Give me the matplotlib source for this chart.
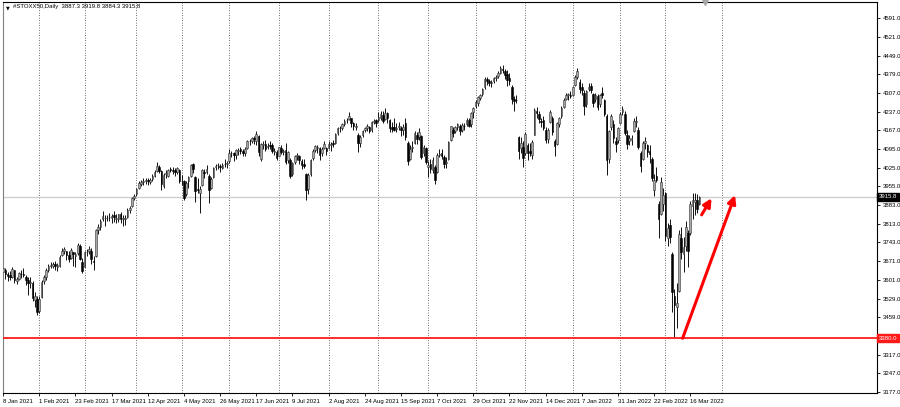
import matplotlib
matplotlib.use("Agg")
import matplotlib.pyplot as plt
import matplotlib.transforms as mtransforms
import numpy as np
import pandas as pd

symbol = "#STOXX50,Daily"
holidays = ["2021-04-02", "2021-04-05", "2021-12-24", "2021-12-31"]

# daily bars: (open, high, low, close)
jan21 = [(3630, 3652, 3620, 3645), (3640, 3645, 3605, 3622), (3622, 3630, 3598, 3616), (3618, 3635, 3600, 3611),
         (3612, 3650, 3608, 3641), (3638, 3640, 3590, 3600), (3598, 3612, 3585, 3605), (3606, 3632, 3600, 3626),
         (3624, 3640, 3610, 3622), (3625, 3645, 3612, 3619), (3612, 3620, 3580, 3602), (3600, 3612, 3545, 3590),
         (3590, 3612, 3570, 3593), (3590, 3595, 3520, 3531), (3525, 3555, 3500, 3541), (3530, 3540, 3468, 3481)]
feb21 = [(3485, 3540, 3475, 3530), (3535, 3600, 3532, 3594), (3595, 3620, 3585, 3612), (3612, 3645, 3600, 3640),
         (3640, 3662, 3630, 3655), (3655, 3668, 3645, 3657), (3655, 3670, 3645, 3662), (3662, 3672, 3640, 3652),
         (3650, 3665, 3635, 3657), (3655, 3694, 3650, 3689), (3695, 3722, 3692, 3710), (3712, 3726, 3700, 3717),
         (3710, 3712, 3675, 3696), (3695, 3712, 3670, 3681), (3685, 3720, 3680, 3713), (3705, 3708, 3655, 3698),
         (3690, 3705, 3650, 3700), (3702, 3740, 3695, 3734), (3728, 3735, 3675, 3681), (3670, 3682, 3628, 3636)]
mar21 = [(3650, 3712, 3648, 3708), (3705, 3718, 3690, 3707), (3710, 3728, 3700, 3718), (3712, 3720, 3660, 3680),
         (3670, 3690, 3640, 3669), (3690, 3795, 3688, 3789), (3790, 3812, 3775, 3803), (3800, 3830, 3790, 3825),
         (3830, 3860, 3825, 3842), (3835, 3845, 3805, 3837), (3835, 3848, 3822, 3836), (3838, 3855, 3825, 3839),
         (3835, 3850, 3815, 3843), (3845, 3862, 3820, 3838), (3830, 3850, 3815, 3837), (3830, 3852, 3820, 3849),
         (3850, 3858, 3815, 3830), (3832, 3848, 3805, 3835), (3830, 3845, 3810, 3837), (3840, 3872, 3835, 3867),
         (3865, 3880, 3855, 3872), (3880, 3915, 3875, 3911), (3912, 3925, 3905, 3919)]
apr21 = [(3925, 3950, 3920, 3945), (3950, 3975, 3945, 3968), (3965, 3980, 3955, 3971), (3972, 3985, 3960, 3977),
         (3975, 3985, 3965, 3979), (3978, 3985, 3960, 3974), (3972, 3988, 3962, 3979), (3982, 4000, 3975, 3994),
         (3995, 4015, 3990, 4010), (4012, 4048, 4010, 4032), (4030, 4035, 4005, 4013), (4012, 4018, 3942, 3963),
         (3955, 4005, 3950, 3999), (4002, 4015, 3985, 4006), (3995, 4020, 3990, 4016), (4020, 4030, 4010, 4017),
         (4018, 4028, 4000, 4012), (4015, 4025, 3995, 4008), (4010, 4030, 4000, 4023), (4015, 4020, 3968, 3975)]
may21 = [(3975, 3998, 3960, 3975), (3975, 3980, 3905, 3910), (3925, 3975, 3920, 3969), (3975, 3995, 3950, 3991),
         (3995, 4040, 3990, 4035), (4038, 4045, 4005, 4020), (3990, 3995, 3895, 3939), (3945, 3985, 3930, 3942),
         (3930, 3955, 3855, 3944), (3960, 4020, 3955, 4017), (4010, 4022, 3985, 4005), (4010, 4036, 4002, 4019),
         (3995, 4000, 3892, 3942), (3950, 3990, 3945, 3983), (3990, 4030, 3985, 4026), (4028, 4040, 4015, 4032),
         (4035, 4045, 4020, 4035), (4032, 4040, 4010, 4029), (4025, 4045, 4020, 4036), (4040, 4060, 4030, 4039),
         (4040, 4050, 4025, 4040)]
jun21 = [(4050, 4095, 4045, 4083), (4080, 4090, 4065, 4081), (4080, 4085, 4050, 4073), (4075, 4098, 4060, 4092),
         (4090, 4100, 4075, 4093), (4095, 4105, 4078, 4089), (4090, 4098, 4070, 4080), (4082, 4102, 4068, 4096),
         (4100, 4130, 4095, 4127), (4125, 4135, 4112, 4126), (4128, 4142, 4120, 4136), (4135, 4145, 4115, 4134),
         (4125, 4165, 4110, 4153), (4145, 4150, 4070, 4084), (4060, 4120, 4052, 4115), (4112, 4125, 4095, 4117),
         (4115, 4130, 4090, 4096), (4105, 4120, 4098, 4109), (4110, 4125, 4095, 4109), (4112, 4118, 4082, 4088),
         (4085, 4100, 4075, 4087), (4085, 4092, 4055, 4064)]
jul21 = [(4070, 4105, 4068, 4102), (4100, 4110, 4078, 4084), (4085, 4095, 4075, 4086), (4092, 4118, 4040, 4048),
         (4055, 4090, 4045, 4085), (4055, 4062, 3985, 3995), (4000, 4048, 3995, 4042), (4048, 4072, 4040, 4068),
         (4070, 4082, 4055, 4071), (4068, 4075, 4040, 4055), (4050, 4060, 4020, 4034), (4040, 4058, 4025, 4032),
         (4000, 4005, 3903, 3941), (3945, 4005, 3925, 3997), (4000, 4060, 3995, 4055), (4062, 4095, 4055, 4090),
         (4092, 4112, 4085, 4108), (4100, 4110, 4080, 4103), (4100, 4105, 4055, 4072), (4080, 4105, 4070, 4098),
         (4100, 4125, 4095, 4117), (4100, 4105, 4075, 4089)]
aug21 = [(4100, 4125, 4098, 4116), (4110, 4122, 4090, 4117), (4118, 4130, 4105, 4116), (4120, 4158, 4115, 4153),
         (4155, 4180, 4150, 4176), (4175, 4182, 4160, 4175), (4176, 4195, 4168, 4190), (4192, 4208, 4185, 4204),
         (4205, 4212, 4195, 4205), (4208, 4238, 4205, 4220), (4212, 4215, 4180, 4193), (4195, 4200, 4168, 4184),
         (4180, 4195, 4170, 4185), (4150, 4155, 4085, 4119), (4120, 4150, 4105, 4141), (4150, 4170, 4140, 4164),
         (4168, 4180, 4160, 4174), (4175, 4190, 4165, 4183), (4180, 4185, 4155, 4164), (4168, 4202, 4160, 4199),
         (4200, 4210, 4190, 4203), (4205, 4210, 4180, 4196)]
sep21 = [(4205, 4235, 4200, 4219), (4215, 4240, 4205, 4227), (4225, 4240, 4195, 4202), (4210, 4250, 4205, 4233),
         (4232, 4238, 4195, 4214), (4205, 4210, 4160, 4174), (4180, 4200, 4160, 4173), (4180, 4215, 4165, 4170),
         (4172, 4195, 4160, 4172), (4180, 4200, 4170, 4185), (4175, 4185, 4145, 4168), (4170, 4190, 4150, 4179),
         (4195, 4212, 4130, 4142), (4120, 4125, 4035, 4049), (4060, 4110, 4055, 4098), (4100, 4125, 4085, 4103),
         (4120, 4165, 4115, 4158), (4150, 4160, 4115, 4133), (4140, 4175, 4130, 4159), (4145, 4150, 4060, 4066),
         (4080, 4110, 4070, 4104), (4100, 4105, 4040, 4048)]
oct21 = [(4030, 4050, 3990, 4034), (4040, 4060, 4005, 4020), (4015, 4065, 4005, 4054), (4030, 4035, 3965, 3979),
         (4010, 4080, 4005, 4073), (4075, 4095, 4065, 4079), (4082, 4098, 4060, 4069), (4065, 4075, 4025, 4040),
         (4045, 4065, 4025, 4048), (4060, 4125, 4055, 4121), (4130, 4185, 4125, 4183), (4170, 4178, 4140, 4158),
         (4165, 4185, 4155, 4179), (4180, 4195, 4170, 4190), (4185, 4190, 4150, 4164), (4170, 4195, 4160, 4188),
         (4185, 4195, 4170, 4182), (4190, 4212, 4185, 4207), (4205, 4212, 4178, 4184), (4190, 4238, 4180, 4233),
         (4235, 4255, 4215, 4250)]
nov21 = [(4258, 4280, 4250, 4274), (4272, 4298, 4260, 4293), (4290, 4305, 4280, 4300), (4305, 4328, 4298, 4322),
         (4330, 4370, 4325, 4363), (4360, 4368, 4340, 4353), (4352, 4360, 4335, 4346), (4345, 4358, 4330, 4349),
         (4352, 4370, 4345, 4364), (4365, 4378, 4355, 4370), (4372, 4390, 4365, 4384), (4385, 4410, 4380, 4401),
         (4400, 4415, 4385, 4395), (4390, 4398, 4360, 4376), (4380, 4395, 4335, 4356), (4365, 4382, 4340, 4353),
         (4330, 4340, 4265, 4286), (4285, 4295, 4240, 4277), (4282, 4300, 4270, 4281), (4140, 4145, 4060, 4089),
         (4100, 4140, 4080, 4120), (4105, 4125, 4030, 4063)]
dec21 = [(4080, 4160, 4075, 4152), (4110, 4120, 4055, 4080), (4090, 4120, 4070, 4080), (4075, 4130, 4060, 4124),
         (4150, 4250, 4148, 4244), (4240, 4255, 4215, 4233), (4230, 4240, 4195, 4208), (4200, 4215, 4180, 4199),
         (4205, 4222, 4170, 4177), (4170, 4180, 4120, 4130), (4135, 4175, 4120, 4170), (4200, 4245, 4195, 4236),
         (4215, 4220, 4150, 4161), (4125, 4135, 4070, 4107), (4115, 4200, 4110, 4194), (4190, 4218, 4180, 4212),
         (4220, 4258, 4215, 4252), (4255, 4288, 4250, 4282), (4285, 4310, 4280, 4302), (4300, 4310, 4280, 4304),
         (4300, 4315, 4290, 4297)]
jan22 = [(4300, 4335, 4295, 4331), (4340, 4375, 4335, 4367), (4370, 4403, 4360, 4392), (4350, 4360, 4310, 4325),
         (4330, 4345, 4300, 4318), (4310, 4320, 4225, 4259), (4265, 4320, 4255, 4317), (4325, 4345, 4315, 4332),
         (4335, 4345, 4310, 4319), (4305, 4310, 4255, 4272), (4285, 4310, 4275, 4301), (4295, 4305, 4245, 4257),
         (4265, 4305, 4255, 4300), (4310, 4330, 4290, 4299), (4280, 4285, 4220, 4229), (4220, 4230, 3998, 4054),
         (4060, 4170, 4045, 4164), (4180, 4230, 4170, 4222), (4190, 4205, 4120, 4137), (4125, 4140, 4085, 4117),
         (4130, 4180, 4120, 4175)]
feb22 = [(4195, 4235, 4190, 4228), (4235, 4260, 4225, 4248), (4230, 4240, 4150, 4156), (4150, 4170, 4095, 4116),
         (4125, 4150, 4110, 4136), (4130, 4150, 4110, 4137), (4165, 4215, 4160, 4203), (4200, 4220, 4180, 4203),
         (4170, 4180, 4095, 4103), (4080, 4090, 4010, 4032), (4060, 4125, 4055, 4118), (4120, 4140, 4095, 4128),
         (4110, 4115, 4065, 4086), (4090, 4110, 4045, 4076), (4060, 4065, 3975, 3986), (3940, 4000, 3920, 3978),
         (3995, 4030, 3970, 3979), (3890, 3900, 3760, 3830), (3850, 3990, 3845, 3970), (3890, 3950, 3860, 3924)]
mar22 = [(3930, 3935, 3750, 3767), (3760, 3815, 3730, 3796), (3810, 3830, 3740, 3764), (3700, 3705, 3480, 3556),
         (3540, 3565, 3385, 3505), (3500, 3590, 3420, 3514), (3560, 3790, 3555, 3776), (3760, 3800, 3680, 3708),
         (3700, 3765, 3630, 3727), (3730, 3825, 3710, 3800), (3780, 3790, 3650, 3710), (3780, 3900, 3770, 3890),
         (3880, 3930, 3830, 3905), (3895, 3928, 3845, 3902), (3905, 3925, 3855, 3870),
         (3887.3, 3919.8, 3884.3, 3915.8)]

date_labels = ["8 Jan 2021", "1 Feb 2021", "23 Feb 2021", "17 Mar 2021", "12 Apr 2021", "4 May 2021",
               "26 May 2021", "17 Jun 2021", "9 Jul 2021", "2 Aug 2021", "24 Aug 2021", "15 Sep 2021",
               "7 Oct 2021", "29 Oct 2021", "22 Nov 2021", "14 Dec 2021", "7 Jan 2022", "31 Jan 2022",
               "22 Feb 2022", "16 Mar 2022"]
# 3387.0 sits under the red level box, so it is left out
price_ticks = [4591.0, 4521.0, 4449.0, 4379.0, 4307.0, 4237.0, 4167.0, 4095.0, 4025.0, 3955.0, 3883.0,
               3813.0, 3743.0, 3671.0, 3601.0, 3529.0, 3459.0, 3317.0, 3247.0, 3177.0]
support_level = 3380.0
# arrows in (bar index, price): start -> end
arrows = [((309.0, 3847.0), (313.4, 3910.0)), ((300.6, 3380.0), (323.8, 3922.0))]
future_grid = [318]        # first month line in the empty area on the right
shift_marker = 310.5

bars = jan21 + feb21 + mar21 + apr21 + may21 + jun21 + jul21 + aug21 + sep21 + oct21 + nov21 + dec21 + jan22 + feb22 + mar22
ohlc = np.array(bars, dtype=float)
o, h, l, c = ohlc.T

dates = pd.bdate_range("2021-01-08", "2022-03-22")
dates = dates[~dates.isin(pd.to_datetime(holidays))]
x = np.arange(len(bars))

fig = plt.figure(figsize=(9.0, 4.07), dpi=100)
ax = fig.add_axes([3 / 900, 14 / 407, 874 / 900, 391 / 407])
ax.set_xlim(-0.06, 386.6)
ax.set_ylim(3173, 4652.5)

# month separators
month_start = [i for i in range(1, len(dates)) if dates[i].month != dates[i - 1].month]
for gx in month_start + future_grid:
    ax.axvline(gx, color="#404040", lw=0.6, ls=(0, (1, 2)), zorder=1)

ax.axhline(c[-1], color="#cfcfcf", lw=1.0, zorder=1)
ax.axhline(support_level, color="#ff1a1a", lw=1.3, zorder=4)

# candles
ax.vlines(x, l, h, color="#111111", lw=0.7, zorder=2)
up = c >= o
ax.bar(x[up], np.maximum(c[up] - o[up], 2), bottom=o[up], width=0.72,
       color="#a8a8a8", edgecolor="#303030", linewidth=0.4, zorder=3)
ax.bar(x[~up], np.maximum(o[~up] - c[~up], 2), bottom=c[~up], width=0.72,
       color="black", edgecolor="black", linewidth=0.4, zorder=3)

for (x0, y0), (x1, y1) in arrows:
    ax.annotate("", xy=(x1, y1), xytext=(x0, y0),
                arrowprops=dict(arrowstyle="-|>", color="#ff0000", lw=2.2,
                                mutation_scale=12, shrinkA=0, shrinkB=0), zorder=5)

# axes styling
lab_font = dict(family=["Liberation Sans", "DejaVu Sans"], size=4.3)
ax.yaxis.tick_right()
ax.set_yticks(price_ticks)
ax.set_yticklabels([f"{p:.1f}" for p in price_ticks], **lab_font)
ax.tick_params(axis="y", length=2.5, width=0.6, pad=1.5, color="black")

label_pos = [dates.get_loc(pd.to_datetime(s, format="%d %b %Y")) for s in date_labels]
ax.set_xticks(label_pos)
ax.set_xticklabels(date_labels, **lab_font)
for t in ax.get_xticklabels():
    t.set_ha("left")
ax.tick_params(axis="x", length=2.5, width=0.6, pad=1.5, color="black")

for s in ax.spines.values():
    s.set_color("black")
    s.set_linewidth(0.8)
ax.spines["left"].set_color("#808080")

# price boxes on the right scale
trans = mtransforms.blended_transform_factory(ax.transAxes, ax.transData)
ax.text(1.002, c[-1], f"{c[-1]:.1f}", transform=trans, color="white", va="center", ha="left",
        bbox=dict(boxstyle="square,pad=0.25", fc="black", ec="black"), zorder=6, clip_on=False, **lab_font)
ax.text(1.002, support_level, f"{support_level:.1f}", transform=trans, color="white", va="center", ha="left",
        bbox=dict(boxstyle="square,pad=0.25", fc="#ff1a1a", ec="#ff1a1a"), zorder=6, clip_on=False, **lab_font)

# header
ax.text(0.003, 0.992, "\u25bc", transform=ax.transAxes, va="top", ha="left",
        family="DejaVu Sans", size=3.5, color="black")
ax.text(0.011, 0.994, f"{symbol}  {o[-1]:.1f} {h[-1]:.1f} {l[-1]:.1f} {c[-1]:.1f}",
        transform=ax.transAxes, va="top", ha="left", **lab_font)

ax.plot([shift_marker], [4652.5], marker="v", ms=4, color="#a8a8a8", clip_on=False, zorder=6)

fig.savefig("out.png", dpi=100, facecolor="white")
